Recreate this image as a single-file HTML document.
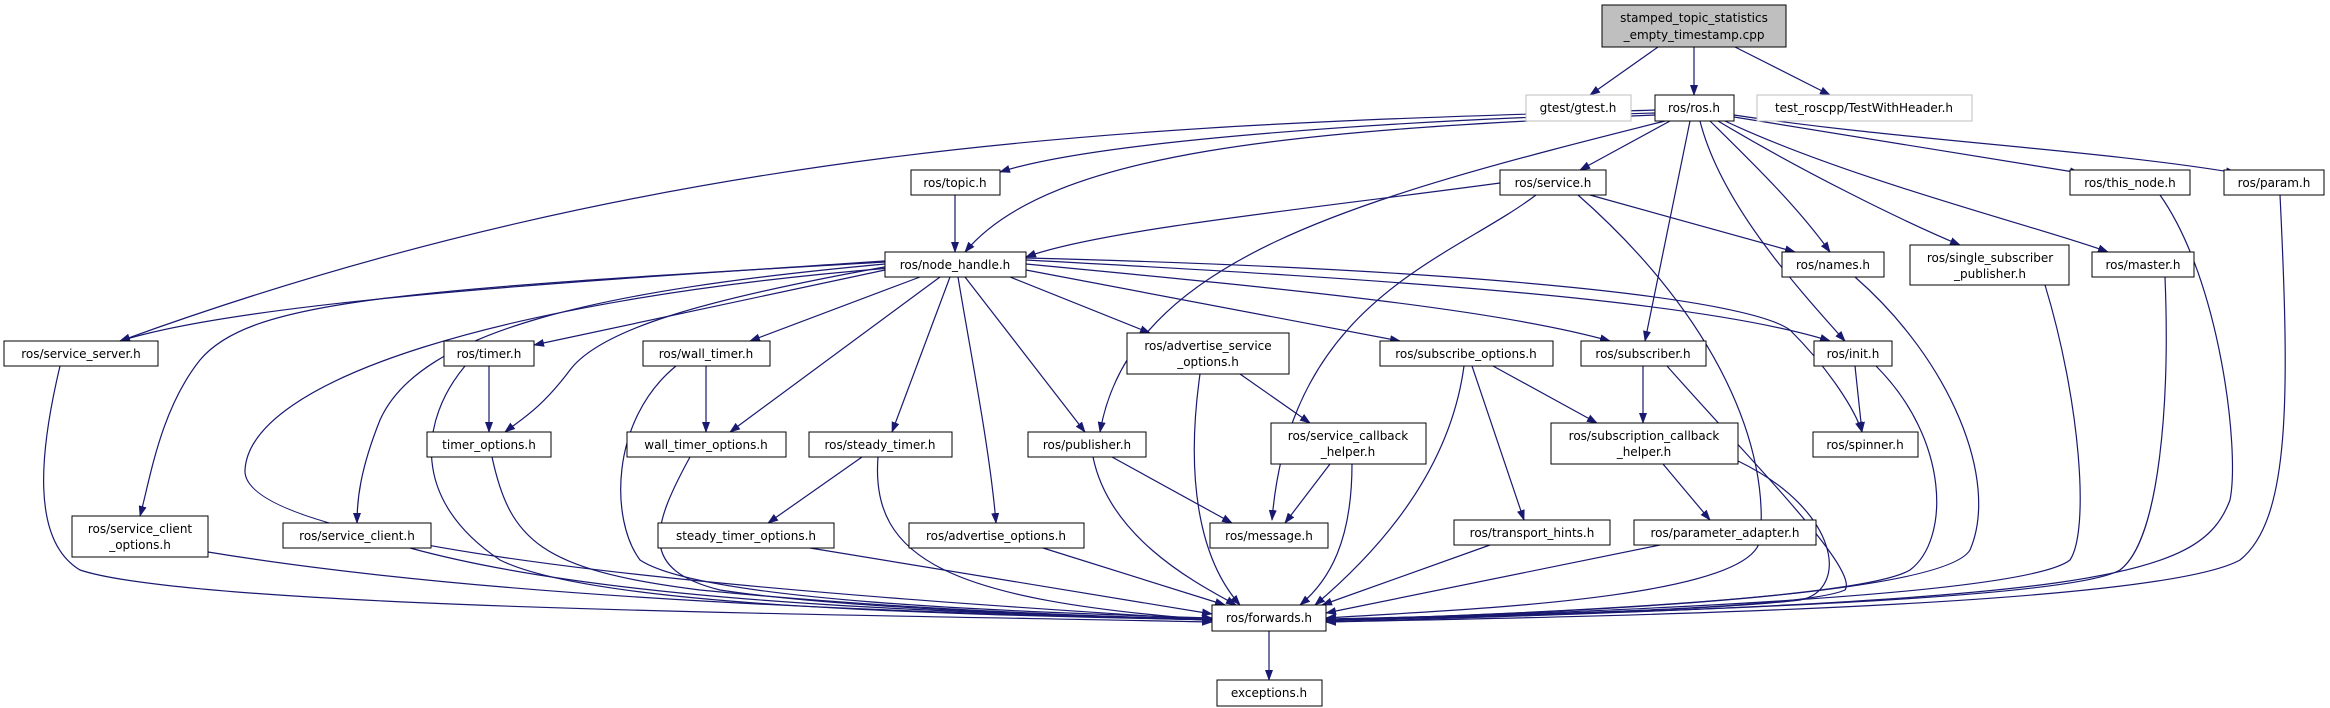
<!DOCTYPE html>
<html><head><meta charset="utf-8"><style>
html,body{margin:0;padding:0;background:#fff;}
svg{display:block;}
text{font-family:"DejaVu Sans","Liberation Sans",sans-serif;font-size:12px;fill:#000;text-anchor:middle;}
.e{fill:none;stroke:#191970;stroke-width:1.2;marker-end:url(#a);}
.n{fill:#fff;stroke:#000;stroke-width:1;}
.g{fill:#fff;stroke:#bfbfbf;stroke-width:1;}
</style></head><body>
<svg width="2330" height="708" viewBox="0 0 2330 708" xmlns="http://www.w3.org/2000/svg">
<defs><marker id="a" markerWidth="11" markerHeight="8" refX="10" refY="4" orient="auto" markerUnits="userSpaceOnUse"><path d="M0,0 L11,4 L0,8z" fill="#191970"/></marker></defs>
<g>
<path class="e" d="M1658,47 L1590,95"/>
<path class="e" d="M1694,47 L1694,95"/>
<path class="e" d="M1735,47 L1830,95"/>
<path class="e" d="M1655,113 C1400,120 1100,140 1000,172"/>
<path class="e" d="M1655,115 C1300,130 1050,150 965,252"/>
<path class="e" d="M1655,110 C1200,125 700,130 120,341"/>
<path class="e" d="M1670,121 L1580,170"/>
<path class="e" d="M1665,121 C1350,200 1130,260 1100,432"/>
<path class="e" d="M1690,121 L1645,341"/>
<path class="e" d="M1700,121 C1720,200 1790,280 1845,341"/>
<path class="e" d="M1710,121 C1760,170 1800,210 1830,252"/>
<path class="e" d="M1718,121 C1800,170 1900,220 1960,245"/>
<path class="e" d="M1725,121 C1850,180 2050,230 2108,252"/>
<path class="e" d="M1734,117 L2080,173"/>
<path class="e" d="M1734,115 C1900,140 2100,150 2236,173"/>
<path class="e" d="M1500,183 C1300,210 1100,230 1026,257"/>
<path class="e" d="M1590,195 L1795,252"/>
<path class="e" d="M1536,195 C1450,260 1290,300 1272,520"/>
<path class="e" d="M1578,195 C1720,320 1770,450 1760,540 C1750,600 1450,610 1326,618"/>
<path class="e" d="M955,195 L955,252"/>
<path class="e" d="M885,261 C600,280 250,300 120,341"/>
<path class="e" d="M885,262 C400,290 250,300 200,360 C160,410 150,480 140,516"/>
<path class="e" d="M885,264 C600,290 420,330 380,420 C360,470 357,500 357,523"/>
<path class="e" d="M885,270 L534,345"/>
<path class="e" d="M890,266 C700,300 600,330 570,370 C540,410 520,420 505,432"/>
<path class="e" d="M920,277 L750,341"/>
<path class="e" d="M940,277 L730,432"/>
<path class="e" d="M950,277 L892,432"/>
<path class="e" d="M958,277 C970,350 990,450 996,523"/>
<path class="e" d="M965,277 L1085,432"/>
<path class="e" d="M1010,277 L1150,333"/>
<path class="e" d="M1026,270 L1400,341"/>
<path class="e" d="M1026,264 C1300,290 1500,310 1610,341"/>
<path class="e" d="M1026,260 C1400,280 1700,300 1830,341"/>
<path class="e" d="M1026,258 C1500,270 1750,300 1790,330 C1830,370 1855,410 1862,432"/>
<path class="e" d="M890,268 C500,300 250,380 245,470 C240,560 900,600 1212,620"/>
<path class="e" d="M489,366 L489,432"/>
<path class="e" d="M465,366 C420,420 410,500 500,560 C600,610 1000,615 1212,620"/>
<path class="e" d="M706,366 L706,432"/>
<path class="e" d="M676,366 C610,420 610,520 640,560 C700,600 1000,612 1212,618"/>
<path class="e" d="M492,457 C510,540 540,570 700,590 C900,610 1100,616 1212,620"/>
<path class="e" d="M690,457 C650,530 640,570 720,590 C850,610 1100,616 1212,620"/>
<path class="e" d="M862,457 L768,523"/>
<path class="e" d="M878,457 C870,560 950,600 1212,620"/>
<path class="e" d="M810,548 L1212,614"/>
<path class="e" d="M1043,548 L1225,605"/>
<path class="e" d="M1112,457 L1232,523"/>
<path class="e" d="M1093,457 C1110,540 1200,585 1236,605"/>
<path class="e" d="M1240,374 L1310,423"/>
<path class="e" d="M1200,374 C1185,480 1200,560 1240,605"/>
<path class="e" d="M1330,464 L1285,523"/>
<path class="e" d="M1352,464 C1352,540 1330,580 1300,605"/>
<path class="e" d="M1493,366 L1597,423"/>
<path class="e" d="M1472,366 L1524,520"/>
<path class="e" d="M1464,366 C1450,470 1380,550 1315,605"/>
<path class="e" d="M1643,366 L1643,423"/>
<path class="e" d="M1667,366 C1750,460 1860,570 1845,590 C1800,610 1500,615 1326,620"/>
<path class="e" d="M1663,464 L1710,520"/>
<path class="e" d="M1738,461 C1840,510 1850,590 1800,600 C1700,612 1450,616 1326,619"/>
<path class="e" d="M1490,545 L1322,605"/>
<path class="e" d="M1660,545 L1326,613"/>
<path class="e" d="M1855,366 L1862,432"/>
<path class="e" d="M1876,366 C1950,440 1950,540 1910,570 C1860,600 1500,615 1326,620"/>
<path class="e" d="M1855,277 C1950,360 2000,480 1970,550 C1940,600 1500,615 1326,620"/>
<path class="e" d="M2045,285 C2080,400 2090,530 2070,560 C2020,600 1500,615 1326,620"/>
<path class="e" d="M2165,277 C2170,400 2160,540 2120,570 C2060,605 1500,615 1326,621"/>
<path class="e" d="M2160,195 C2220,280 2240,450 2230,500 C2200,580 2100,600 1326,622"/>
<path class="e" d="M2280,195 C2290,400 2290,520 2240,560 C2150,610 1500,618 1326,622"/>
<path class="e" d="M60,366 C40,450 30,540 80,570 C200,610 900,615 1212,622"/>
<path class="e" d="M208,552 C500,600 900,612 1212,620"/>
<path class="e" d="M410,548 C600,600 900,612 1212,619"/>
<path class="e" d="M1269,631 L1269,680"/>
</g>
<g>
<rect x="1602" y="5" width="184" height="42" fill="#bfbfbf" stroke="#000"/>
<text x="1694" y="22">stamped_topic_statistics</text><text x="1694" y="39">_empty_timestamp.cpp</text>
<rect class="g" x="1526" y="95" width="105" height="26"/><text x="1578" y="112">gtest/gtest.h</text>
<rect class="n" x="1655" y="95" width="79" height="26"/><text x="1694" y="112">ros/ros.h</text>
<rect class="g" x="1757" y="95" width="215" height="26"/><text x="1864" y="112">test_roscpp/TestWithHeader.h</text>
<rect class="n" x="911" y="170" width="89" height="25"/><text x="955" y="187">ros/topic.h</text>
<rect class="n" x="1500" y="170" width="106" height="25"/><text x="1553" y="187">ros/service.h</text>
<rect class="n" x="2070" y="170" width="120" height="25"/><text x="2130" y="187">ros/this_node.h</text>
<rect class="n" x="2224" y="170" width="100" height="25"/><text x="2274" y="187">ros/param.h</text>
<rect class="n" x="885" y="252" width="141" height="25"/><text x="955" y="269">ros/node_handle.h</text>
<rect class="n" x="1782" y="252" width="102" height="25"/><text x="1833" y="269">ros/names.h</text>
<rect class="n" x="1910" y="245" width="159" height="40"/><text x="1990" y="262">ros/single_subscriber</text><text x="1990" y="278">_publisher.h</text>
<rect class="n" x="2092" y="252" width="102" height="25"/><text x="2143" y="269">ros/master.h</text>
<rect class="n" x="4" y="341" width="154" height="25"/><text x="81" y="358">ros/service_server.h</text>
<rect class="n" x="444" y="341" width="90" height="25"/><text x="489" y="358">ros/timer.h</text>
<rect class="n" x="643" y="341" width="127" height="25"/><text x="706" y="358">ros/wall_timer.h</text>
<rect class="n" x="1127" y="333" width="162" height="41"/><text x="1208" y="350">ros/advertise_service</text><text x="1208" y="366">_options.h</text>
<rect class="n" x="1380" y="341" width="173" height="25"/><text x="1466" y="358">ros/subscribe_options.h</text>
<rect class="n" x="1581" y="341" width="125" height="25"/><text x="1643" y="358">ros/subscriber.h</text>
<rect class="n" x="1814" y="341" width="78" height="25"/><text x="1853" y="358">ros/init.h</text>
<rect class="n" x="427" y="432" width="124" height="25"/><text x="489" y="449">timer_options.h</text>
<rect class="n" x="627" y="432" width="159" height="25"/><text x="706" y="449">wall_timer_options.h</text>
<rect class="n" x="809" y="432" width="143" height="25"/><text x="880" y="449">ros/steady_timer.h</text>
<rect class="n" x="1028" y="432" width="118" height="25"/><text x="1087" y="449">ros/publisher.h</text>
<rect class="n" x="1271" y="423" width="155" height="41"/><text x="1348" y="440">ros/service_callback</text><text x="1348" y="456">_helper.h</text>
<rect class="n" x="1551" y="423" width="187" height="41"/><text x="1644" y="440">ros/subscription_callback</text><text x="1644" y="456">_helper.h</text>
<rect class="n" x="1813" y="432" width="105" height="25"/><text x="1865" y="449">ros/spinner.h</text>
<rect class="n" x="72" y="516" width="136" height="41"/><text x="140" y="533">ros/service_client</text><text x="140" y="549">_options.h</text>
<rect class="n" x="283" y="523" width="148" height="25"/><text x="357" y="540">ros/service_client.h</text>
<rect class="n" x="658" y="523" width="176" height="25"/><text x="746" y="540">steady_timer_options.h</text>
<rect class="n" x="909" y="523" width="175" height="25"/><text x="996" y="540">ros/advertise_options.h</text>
<rect class="n" x="1210" y="523" width="118" height="25"/><text x="1269" y="540">ros/message.h</text>
<rect class="n" x="1454" y="520" width="156" height="25"/><text x="1532" y="537">ros/transport_hints.h</text>
<rect class="n" x="1634" y="520" width="182" height="25"/><text x="1725" y="537">ros/parameter_adapter.h</text>
<rect class="n" x="1212" y="605" width="114" height="26"/><text x="1269" y="622">ros/forwards.h</text>
<rect class="n" x="1217" y="680" width="105" height="26"/><text x="1269" y="697">exceptions.h</text>
</g>
</svg>
</body></html>
